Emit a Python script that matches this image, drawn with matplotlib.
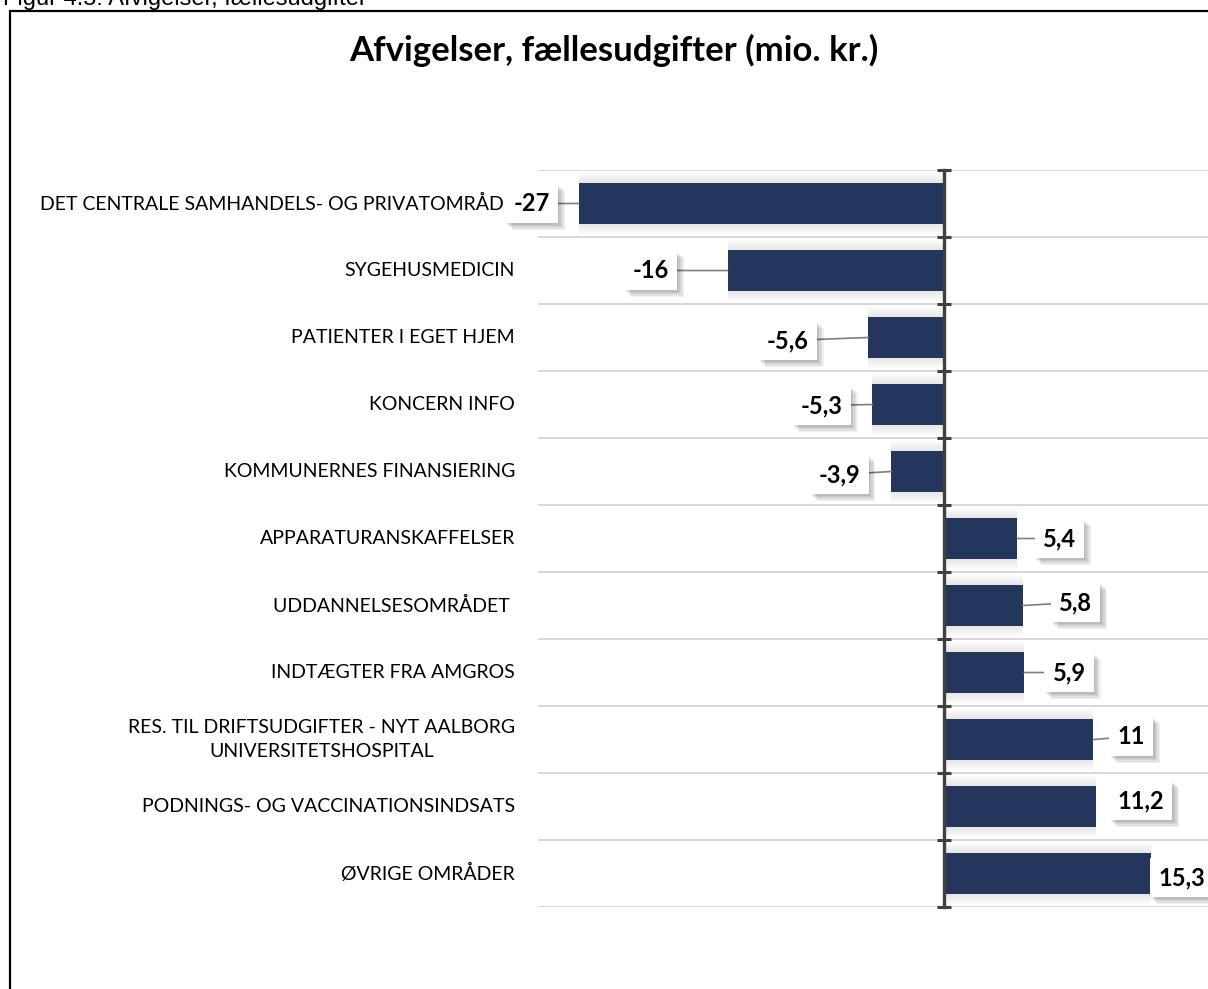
import numpy as np
import matplotlib
matplotlib.use('Agg')
import matplotlib.pyplot as plt
import matplotlib.patheffects as pe
from matplotlib.patches import Rectangle

# data
categories = [
    'DET CENTRALE SAMHANDELS- OG PRIVATOMRÅDE',
    'SYGEHUSMEDICIN',
    'PATIENTER I EGET HJEM',
    'KONCERN INFO',
    'KOMMUNERNES FINANSIERING',
    'APPARATURANSKAFFELSER',
    'UDDANNELSESOMRÅDET ',
    'INDTÆGTER FRA AMGROS',
    'RES. TIL DRIFTSUDGIFTER - NYT AALBORG\nUNIVERSITETSHOSPITAL',
    'PODNINGS- OG VACCINATIONSINDSATS',
    'ØVRIGE OMRÅDER',
]
values = [-27, -16, -5.6, -5.3, -3.9, 5.4, 5.8, 5.9, 11, 11.2, 15.3]

title = 'Afvigelser, fællesudgifter (mio. kr.)'
caption = 'Figur 4.5: Afvigelser, fællesudgifter'

# label offsets from the bar end, in pixels, and leader lines (layout only)
label_dx = [-47, -77, -81, -51, -52, 42, 53, 45, 38, 45, 30]
label_dy = [0, 0, -3, -1, -3, 0, 3, 0, 3, 6, -4]
leader = [True] * 9 + [False, False]

bar_color = '#24365c'
axis_color = '#404040'
grid_color = '#d4d4d4'

W, H = 1208, 989
fig = plt.figure(figsize=(W / 100, H / 100), dpi=100)

# frame around the chart
fig.patches.append(Rectangle((10 / W, -0.1), 1.2, 1 - 11 / H + 0.1,
                             transform=fig.transFigure, fill=False,
                             edgecolor='black', lw=1.6))
fig.text(3 / W, 1 - 5 / H, caption, fontsize=17, family='Liberation Sans',
         va='baseline', ha='left')
fig.text(614 / W, 1 - 50 / H, title, fontsize=25, family='Lato',
         fontweight='bold', ha='center', va='center')

ax = fig.add_axes([538 / W, 1 - 907 / H, (1215 - 538) / W, (907 - 170) / H])
y = np.arange(len(categories))

# soft glow behind the bars
for k in range(6):
    ax.barh(y, values, height=0.6 + 0.06 * k, color='#808080',
            alpha=0.035, lw=0, zorder=1)
ax.barh(y, values, height=0.6, color=bar_color, lw=0, zorder=3)

ax.set_xlim(-30, 20)
ax.set_ylim(len(categories) - 0.5, -0.5)

for s in ['top', 'right', 'bottom']:
    ax.spines[s].set_visible(False)
ax.spines['left'].set_position(('data', 0))
ax.spines['left'].set_color(axis_color)
ax.spines['left'].set_linewidth(2.4)
ax.spines['left'].set_zorder(5)

ax.set_xticks([])
ax.set_yticks(y)
ax.set_yticklabels([])
ax.tick_params(axis='y', which='major', length=0)
ax.set_yticks(np.arange(len(categories) + 1) - 0.5, minor=True)
ax.tick_params(axis='y', which='minor', direction='inout', length=10,
               width=2.2, color=axis_color)
ax.grid(which='minor', axis='y', color=grid_color, lw=1.3, zorder=0)
ax.set_axisbelow(True)

for yi, cat in zip(y, categories):
    ax.text(-23 / (1215 - 538), yi, cat, transform=ax.get_yaxis_transform(),
            ha='right', va='center', multialignment='center',
            fontsize=14, family='Lato', linespacing=1.45)

shadow = [pe.SimplePatchShadow(offset=(o, -o), shadow_rgbFace='#000000', alpha=0.06)
          for o in (1, 2, 3, 4, 5)]
for yi, v, dx, dy, ld in zip(y, values, label_dx, label_dy, leader):
    arrow = None
    if ld:
        arrow = dict(arrowstyle='-', color='#7f7f7f', lw=1.2, shrinkA=0, shrinkB=0)
    t = ax.annotate(f'{v:g}'.replace('.', ','), xy=(v, yi),
                    xytext=(dx, dy), textcoords='offset pixels',
                    ha='center', va='center', fontsize=17, family='Lato',
                    fontweight='bold', zorder=6, annotation_clip=False,
                    bbox=dict(boxstyle='square,pad=0.35', fc='white', ec='none'),
                    arrowprops=arrow)
    t.get_bbox_patch().set_path_effects(shadow + [pe.Normal()])

fig.savefig('out.png', dpi=100)
